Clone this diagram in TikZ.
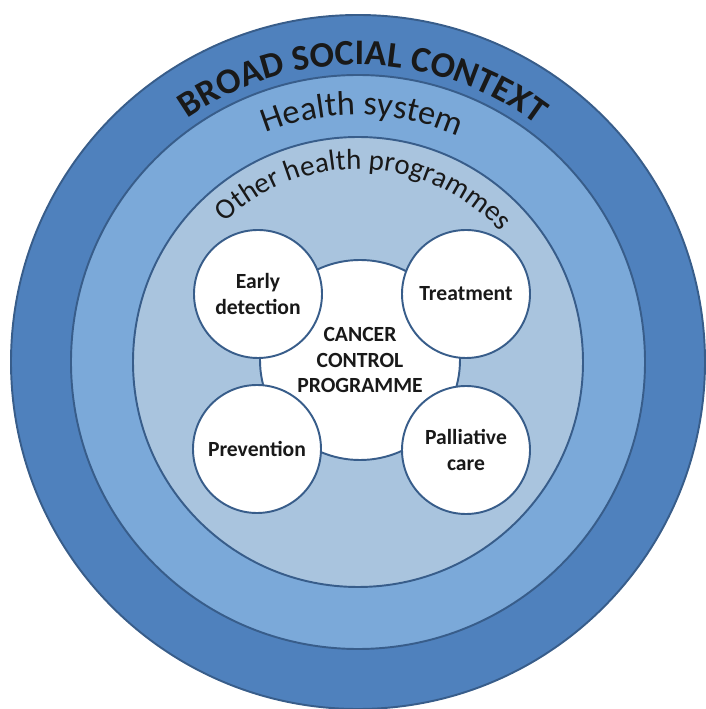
\documentclass[tikz,border=0pt]{standalone}
\usepackage{fontspec}
\setmainfont{Carlito}
\definecolor{ringdark}{RGB}{79,129,189}
\definecolor{ringmid}{RGB}{123,169,217}
\definecolor{ringlight}{RGB}{169,196,222}
\definecolor{ringline}{RGB}{56,93,138}
\definecolor{txt}{RGB}{25,25,25}
\usetikzlibrary{decorations.text}

\begin{document}
\begin{tikzpicture}[
  ring/.style={circle, draw=ringline, line width=1.1pt, inner sep=0pt},
  part/.style={circle, draw=ringline, line width=1.1pt, fill=white, minimum size=2.56cm, inner sep=0pt, align=center, text=txt, font=\fontsize{12.3}{14.5}\selectfont\bfseries}]
\useasboundingbox (-7.16,-6.94) rectangle (6.94,7.24);
% Rings
\node[ring, fill=ringdark, minimum size=13.88cm] (social) at (0,0) {};
\node[ring, fill=ringmid, minimum size=11.48cm] (health) at (0,0) {};
\node[ring, fill=ringlight, minimum size=9cm] (other) at (0,0) {};
% Ring labels
\path[decorate, decoration={text along path, text align=center, text color=txt,
  text={|\fontsize{20.5}{24}\selectfont\bfseries|BROAD SOCIAL CONTEXT}}]
  (159:5.94) arc[start angle=159, end angle=19, radius=5.94];
\path[decorate, decoration={text along path, text align=center, text color=txt,
  text={|\fontsize{19.5}{23}\selectfont|Health system}}]
  (159:4.94) arc[start angle=159, end angle=19, radius=4.94];
\path[decorate, decoration={text along path, text align=center, text color=txt,
  text={|\fontsize{16.5}{20}\selectfont|Other health programmes}}]
  (168:3.86) arc[start angle=168, end angle=8, radius=3.86];
% Programme and its parts
\node[part, minimum size=4cm] (ccp) at (0.04,0.04) {CANCER\\CONTROL\\PROGRAMME};
\node[part] (early) at (-2.0,1.36) {Early\\detection};
\node[part] (treat) at (2.16,1.36) {Treatment};
\node[part] (prev) at (-2.02,-1.74) {Prevention};
\node[part] (pall) at (2.16,-1.76) {Palliative\\care};
\end{tikzpicture}
\end{document}
